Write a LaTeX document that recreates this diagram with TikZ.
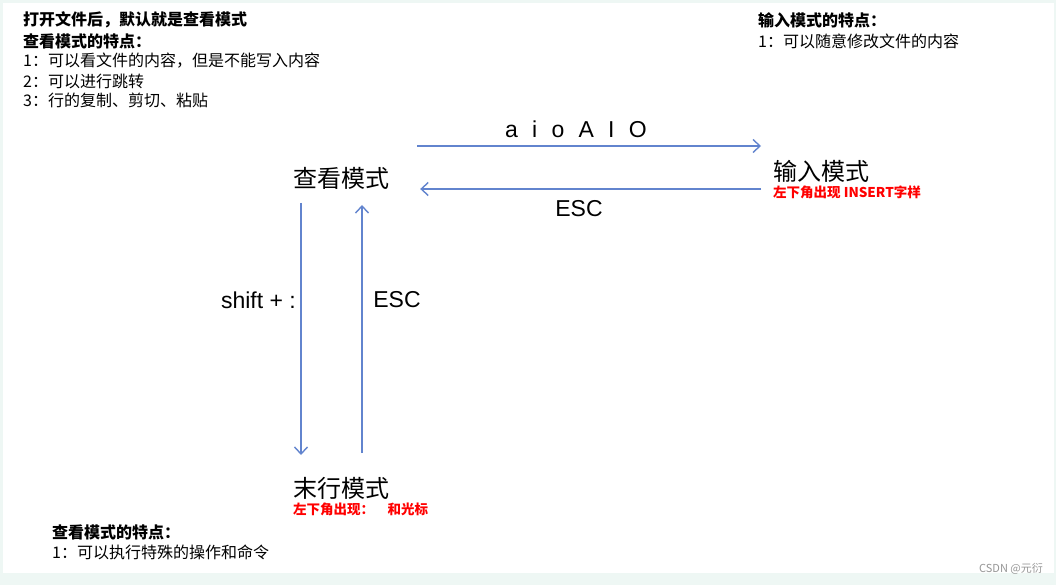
\documentclass[tikz,border=0pt]{standalone}
\usepackage{fontspec}
\setmainfont{Liberation Sans}
\newfontfamily\cjk{Noto Sans CJK SC}
\usepackage{xcolor}
\usetikzlibrary{arrows.meta}
\definecolor{pagebg}{RGB}{238,247,244}
\definecolor{linkblue}{RGB}{98,132,206}
\definecolor{markgray}{RGB}{150,150,150}
\newcommand\keygap{\hspace{.62em}}
\tikzset{
    vimmodes/.style={
        x=1pt, y=-1pt,
        >={Straight Barb[length=7pt, width=13pt]},
        mode/.style={inner sep=0pt, font=\cjk\fontsize{24}{28}\selectfont},
        notehead/.style={anchor=west, inner sep=0pt, font=\cjk\bfseries\fontsize{16}{19}\selectfont},
        note/.style={anchor=west, inner sep=0pt, font=\cjk\fontsize{16}{19}\selectfont},
        hint/.style={anchor=west, inner sep=0pt, text=red, font=\cjk\bfseries\fontsize{13.5}{16}\selectfont},
        key/.style={inner sep=0pt, font=\fontsize{23}{27}\selectfont},
        arrow/.style={draw=linkblue, line width=1.4pt, ->}
    }
}

\begin{document}
\begin{tikzpicture}[vimmodes]
    % Page
    \fill[pagebg] (0,0) rectangle (1056,585);
    \fill[white] (3,3) rectangle (1054,573);
    \useasboundingbox (0,0) rectangle (1056,585);

    % Notes on view mode
    \node[notehead] (open) at (23,20) {打开文件后，默认就是查看模式};
    \node[notehead] (viewhead) at (23,41) {查看模式的特点：};
    \node[note] (view1) at (23,61) {1：可以看文件的内容，但是不能写入内容};
    \node[note] (view2) at (23,81) {2：可以进行跳转};
    \node[note] (view3) at (23,100) {3：行的复制、剪切、粘贴};

    % Notes on insert mode
    \node[notehead] (inserthead) at (758,20) {输入模式的特点：};
    \node[note] (insert1) at (758,41) {1：可以随意修改文件的内容};

    % Notes on last line mode
    \node[notehead] (lasthead) at (52,532) {查看模式的特点：};
    \node[note] (last1) at (52,552) {1：可以执行特殊的操作和命令};

    % Modes
    \node[mode] (view) at (341,178) {查看模式};
    \node[mode, anchor=west] (insert) at (773,171) {输入模式};
    \node[mode] (lastline) at (341,488) {末行模式};
    \node[hint] (inserthint) at (773,192) {左下角出现 INSERT字样};
    \node[hint] (lasthint) at (293,509) {左下角出现：\hspace{1em}和光标};

    % Transitions
    \draw[arrow] ([shift={(28,-32)}]view.east) -- ([shift={(-12,-25)}]insert.west);
    \draw[arrow] ([shift={(-12,18)}]insert.west) -- ([shift={(31,11)}]view.east);
    \draw[arrow] ([shift={(-40,25)}]view.center) -- ([shift={(-40,-33)}]lastline.center);
    \draw[arrow] ([shift={(21,-35)}]lastline.center) -- ([shift={(21,27)}]view.center);

    % Keys
    \node[key] (enterkeys) at (576,129) {a\keygap i\keygap o\keygap A\keygap I\keygap O};
    \node[key] (escinsert) at (579,209) {ESC};
    \node[key, anchor=east] (colonkey) at (296,300) {shift + :};
    \node[key] (esclast) at (397,300) {ESC};

    % Watermark
    \node[font=\cjk\fontsize{11}{13}\selectfont, text=markgray, anchor=east, inner sep=0pt] (mark) at (1043,569) {CSDN @元衍};
\end{tikzpicture}
\end{document}
